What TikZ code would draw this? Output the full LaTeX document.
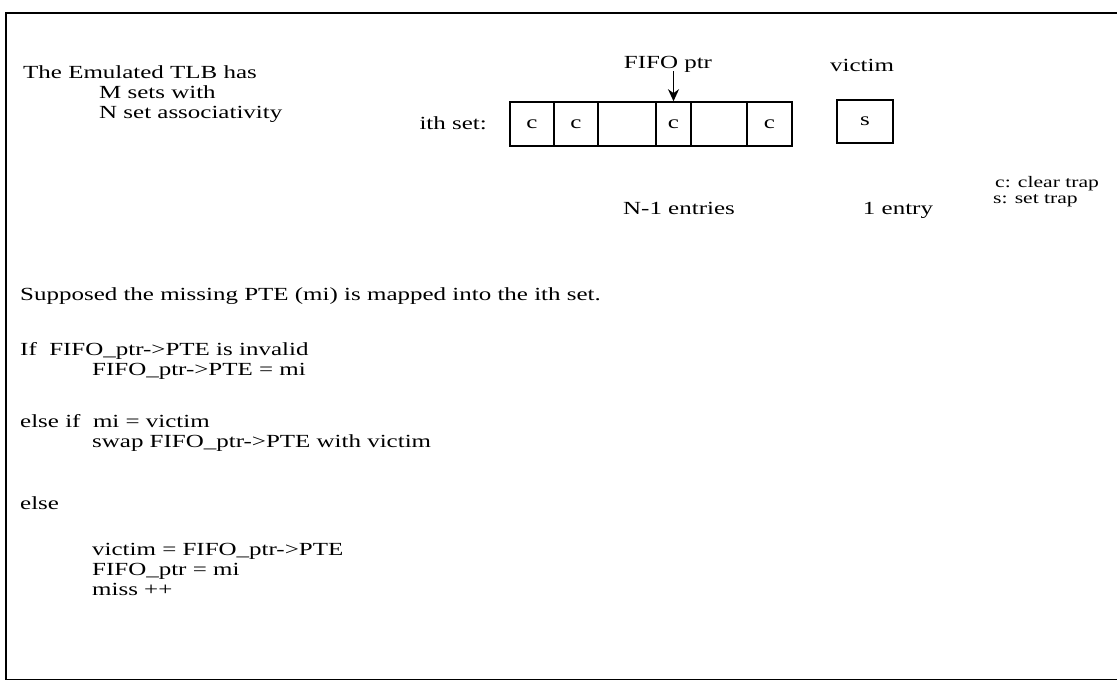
\documentclass[tikz,border=0pt]{standalone}
\usepackage{fontspec}
\setmainfont[FakeStretch=1.35]{Liberation Serif}
\usetikzlibrary{arrows.meta}
\begin{document}
\begin{tikzpicture}[x=1pt,y=-1pt,
  txt/.style={anchor=base west,inner sep=0pt,font=\fontsize{18.5}{20}\selectfont},
  small/.style={anchor=base west,inner sep=0pt,font=\fontsize{16}{16}\selectfont},
  cell/.style={draw,line width=1.6pt,minimum height=44pt,inner sep=0pt,font=\fontsize{18.5}{20}\selectfont}]
\useasboundingbox (0,0) rectangle (1117,681);
% frame
\draw[line width=1.5pt] (1117,13) -- (6,13) -- (6,679.5) -- (1117,679.5);
% header text
\node[txt] (t1) at (23,78) {The Emulated TLB has};
\node[txt] (t2) at (99,98) {M sets with};
\node[txt] (t3) at (99,118) {N set associativity};
\node[txt,anchor=base east] (ith) at (487,129) {ith set:};
% cells
\node[cell,minimum width=44pt] (c1) at (532,124) {c};
\node[cell,minimum width=44pt] (c2) at (576,124) {c};
\node[cell,minimum width=58pt] (c3) at (627,124) {};
\node[cell,minimum width=35pt] (c4) at (673.5,124) {c};
\node[cell,minimum width=56pt] (c5) at (719,124) {};
\node[cell,minimum width=45pt] (c6) at (769.5,124) {c};
\node[cell,minimum width=56pt,minimum height=43pt] (vb) at (865,121.5) {s};
% labels
\node[txt,anchor=base] (fifo) at (668,68) {FIFO ptr};
\coordinate (fifotail) at (673.5,71);
\draw[line width=1.6pt,-{Stealth[length=12pt,width=11pt]}] (fifotail) -- (c4.north);
\node[txt,anchor=base] (vic) at (862,71) {victim};
\node[txt,anchor=base] (n1) at (679,214) {N-1 entries};
\node[txt,anchor=base] (one) at (898,214) {1 entry};
\node[small] (ct) at (995,187) {c: clear trap};
\node[small] (st) at (993,203) {s: set trap};
% algorithm
\node[txt] (sup) at (20,300) {Supposed the missing PTE (mi) is mapped into the ith set.};
\node[txt] (if1) at (20,355) {If\ \ FIFO\_ptr->PTE is invalid};
\node[txt] (if2) at (92,375) {FIFO\_ptr->PTE = mi};
\node[txt] (ei1) at (20,427) {else if\ \ mi = victim};
\node[txt] (ei2) at (92,447) {swap FIFO\_ptr->PTE with victim};
\node[txt] (el1) at (20,509) {else};
\node[txt] (el2) at (92,555) {victim = FIFO\_ptr->PTE};
\node[txt] (el3) at (92,575) {FIFO\_ptr = mi};
\node[txt] (el4) at (92,595) {miss ++};
\end{tikzpicture}
\end{document}
